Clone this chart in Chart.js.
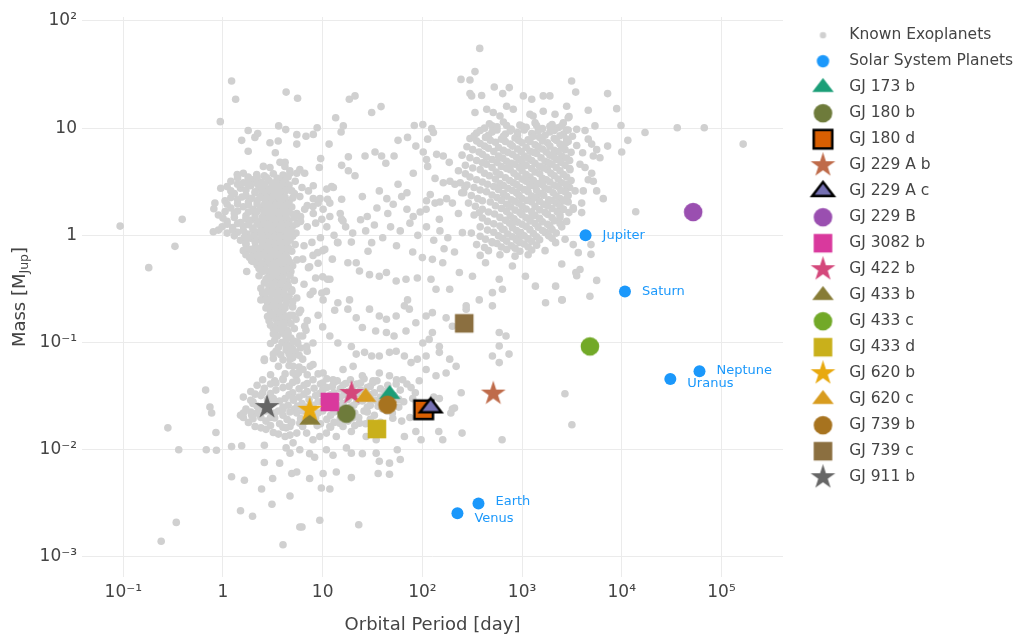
<!DOCTYPE html>
<html><head><meta charset="utf-8">
<script src="https://cdn.jsdelivr.net/npm/chart.js@4.4.1/dist/chart.umd.min.js"></script>
<style>html,body{margin:0;padding:0;background:#fff;}#wrap{width:1016px;height:639px;}</style>
</head><body><div id="wrap"><canvas id="c" width="1016" height="639"></canvas></div>
<script>
// ---------- axis ticks ----------
const xTickValues = [0.1, 1, 10, 100, 1000, 10000, 100000];
const xTickLabels = ['10⁻¹', '1', '10', '10²', '10³', '10⁴', '10⁵'];
const yTickValues = [0.001, 0.01, 0.1, 1, 10, 100];
const yTickLabels = ['10⁻³', '10⁻²', '10⁻¹', '1', '10', '10²'];

// ---------- solar system ----------
const solarNames  = ['Venus', 'Earth', 'Jupiter', 'Saturn', 'Uranus', 'Neptune'];
const solarPeriod = [224.7, 365.25, 4332.6, 10759, 30687, 60190];
const solarMass   = [0.00256, 0.00315, 1.0, 0.299, 0.0457, 0.054];

// ---------- highlighted planets ----------
const targetNames  = ['GJ 173 b','GJ 180 b','GJ 180 d','GJ 229 A b','GJ 229 A c','GJ 229 B','GJ 3082 b','GJ 422 b','GJ 433 b','GJ 433 c','GJ 433 d','GJ 620 b','GJ 620 c','GJ 739 b','GJ 739 c','GJ 911 b'];
const targetPeriod = [47, 17.3, 103, 514, 121, 52000, 11.8, 19.5, 7.45, 4790, 35, 7.4, 27, 44.7, 263, 2.77];
const targetMass   = [0.033, 0.0217, 0.0236, 0.0334, 0.0248, 1.65, 0.0279, 0.0338, 0.019, 0.092, 0.0156, 0.0236, 0.031, 0.0263, 0.151, 0.025];

// ---------- known exoplanets [period (day), mass (MJup)] ----------
const exoplanets = [
[0.093,1.22],[0.39,1.41],[0.33,0.79],[0.18,0.5],[0.8,1.08],[0.28,0.016],[0.85,0.0145],[0.36,0.01],[0.68,0.01],[0.86,0.0099],[1.22,0.0107],[1.54,0.0109],[2.6,0.011],[0.34,0.0021],[0.24,0.0014],[0.67,0.036],[0.74,0.025],[0.77,0.022],[0.95,2.75],[0.83,2.0],[0.81,1.77],[1.22,27.5],[1.34,18.6],[0.94,11.5],
[1.79,9.5],[2.23,8.9],[1.54,7.7],[2.09,8.2],[3.62,10.5],[4.26,9.7],[5.5,8.7],[5.5,7.1],[2.96,7.3],[3.58,7.6],[1.79,6.1],[3.35,5.9],[1.39,3.7],[1.79,3.5],[2.18,3.7],[2.54,4.4],[2.96,4.3],[3.73,4.8],[4.18,4.4],[4.69,4.0],[5.5,3.8],[4.3,21.7],[5.6,19],
[4.2,4.8],[4.7,3.8],[5.9,4.1],[6.6,3.8],[5.3,3.2],[6.2,2.8],[4.4,2.9],[4.9,2.6],[5.9,2.3],[7.2,2.6],[8.05,2.9],[8.05,2.2],[9.4,2.2],[11,2.7],[12.8,2.8],[11.8,2.0],[10.1,1.75],[8.05,1.6],[5.5,1.6],[4.4,1.75],
[1.6,3.8],[2.6,3.6],[3.2,3.75],[4.0,3.65],
[1.2,3.2],[1.6,3.1],[2.0,3.3],[2.4,3.15],[2.9,3.25],[3.3,3.1],[3.7,3.3],[4.2,3.2],
[1.1,2.85],[1.5,2.75],[1.9,2.9],[2.3,2.8],[2.7,2.7],[3.1,2.85],[3.5,2.75],[4.0,2.9],
[1.3,2.45],[1.7,2.35],[2.1,2.5],[2.5,2.4],[2.9,2.35],[3.3,2.45],[3.8,2.4],[5.2,2.45],
[1.05,2.1],[1.4,2.15],[1.8,2.05],[2.2,2.1],[2.6,2.2],[3.0,2.05],[3.4,2.15],[3.9,2.1],[4.6,2.05],
[1.2,1.8],[1.6,1.85],[2.0,1.75],[2.4,1.82],[2.8,1.78],[3.2,1.86],[3.6,1.8],[4.1,1.76],[4.9,1.84],
[0.9,1.55],[1.3,1.6],[1.7,1.52],[2.1,1.57],[2.5,1.5],[2.9,1.6],[3.3,1.54],[3.7,1.58],[4.3,1.52],[5.1,1.56],
[1.1,1.35],[1.5,1.32],[1.9,1.38],[2.3,1.34],[2.7,1.39],[3.1,1.31],[3.5,1.36],[4.0,1.33],[4.6,1.37],[6.0,1.35],
[0.98,1.2],[1.25,1.18],[1.6,1.22],[2.0,1.17],[2.4,1.21],[2.8,1.19],[3.2,1.23],[3.6,1.18],[4.2,1.2],[5.0,1.22],
[1.1,1.05],[1.4,1.07],[1.75,1.03],[2.2,1.06],[2.6,1.02],[3.0,1.07],[3.4,1.04],[3.9,1.06],[4.5,1.03],[5.4,1.05],
[1.5,0.9],[1.9,0.94],[2.3,0.91],[2.7,0.93],[3.1,0.9],[3.5,0.94],[4.0,0.92],[4.7,0.9],
[1.7,0.82],[2.1,0.78],[2.5,0.81],[2.9,0.8],[3.3,0.83],[3.8,0.79],[4.4,0.8],[5.3,0.82],
[1.6,0.72],[2.0,0.69],[2.4,0.71],[2.8,0.68],[3.2,0.72],[3.6,0.7],[4.2,0.69],[4.9,0.71],
[1.85,0.62],[2.3,0.59],[2.7,0.61],[3.1,0.6],[3.5,0.58],[3.9,0.62],[4.5,0.6],[5.5,0.59],
[2.2,0.53],[2.6,0.51],[3.0,0.54],[3.4,0.52],[3.8,0.5],[4.3,0.53],[5.0,0.52],
[2.5,0.46],[2.9,0.44],[3.3,0.46],[3.7,0.45],[4.1,0.44],[4.8,0.46],
[2.7,0.39],[3.1,0.37],[3.5,0.39],[3.9,0.38],[4.4,0.37],[5.2,0.38],
[2.4,0.32],[2.9,0.33],[3.3,0.31],[3.7,0.33],[4.2,0.32],[4.9,0.31],
[2.6,0.27],[3.1,0.28],[3.5,0.26],[3.9,0.28],[4.6,0.27],[5.5,0.26],
[2.8,0.23],[3.3,0.24],[3.7,0.22],[4.3,0.23],[5.0,0.24],
[3.0,0.19],[3.5,0.2],[4.0,0.19],[4.7,0.18],[5.8,0.19],
[2.9,0.16],[3.4,0.165],[3.9,0.155],[4.5,0.16],[5.4,0.165],
[3.2,0.135],[3.8,0.14],[4.4,0.13],[5.2,0.135],
[3.5,0.115],[4.1,0.12],[4.8,0.11],[6.3,0.115],
[3.0,0.098],[3.9,0.1],[4.6,0.095],[5.6,0.098],
[3.4,0.083],[4.3,0.085],[5.3,0.081],[7.0,0.083],
[2.6,0.068],[3.2,0.071],[4.0,0.069],[5.0,0.072],[6.3,0.07],
[3.6,0.06],[4.6,0.061],[5.8,0.059],[7.5,0.06],
[3.0,0.05],[4.2,0.051],[5.4,0.049],[7.0,0.05],[9.0,0.051],
[1.4,3.45],[1.8,3.4],[2.2,3.5],[2.75,3.45],[3.5,3.4],[4.5,3.5],
[1.4,3.0],[1.8,2.95],[2.2,3.05],[2.6,3.0],[3.1,2.95],[3.5,3.05],[3.95,3.0],[4.6,2.95],
[1.2,2.6],[1.7,2.65],[2.1,2.55],[2.5,2.6],[2.9,2.65],[3.3,2.55],[3.7,2.6],[4.3,2.62],
[1.2,2.25],[1.55,2.28],[1.95,2.22],[2.35,2.26],[2.75,2.23],[3.15,2.27],[3.6,2.24],[4.2,2.26],[5.0,2.23],
[1.1,1.95],[1.4,1.97],[1.8,1.93],[2.2,1.96],[2.6,1.94],[3.0,1.97],[3.4,1.93],[3.85,1.96],[4.4,1.94],
[1.05,1.67],[1.4,1.69],[1.8,1.65],[2.2,1.68],[2.6,1.66],[3.0,1.69],[3.5,1.65],[4.0,1.68],[4.6,1.66],
[1.0,1.45],[1.3,1.47],[1.7,1.43],[2.1,1.46],[2.5,1.44],[2.9,1.47],[3.3,1.43],[3.7,1.46],[4.3,1.44],[5.2,1.46],
[1.1,1.27],[1.4,1.29],[1.8,1.26],[2.2,1.28],[2.6,1.26],[3.0,1.29],[3.4,1.25],[3.9,1.28],[4.5,1.26],[5.5,1.28],
[0.9,1.12],[1.25,1.13],[1.6,1.11],[2.0,1.13],[2.4,1.1],[2.8,1.13],[3.2,1.11],[3.6,1.13],[4.1,1.11],[4.8,1.12],
[1.3,0.99],[1.65,0.97],[2.05,0.99],[2.5,0.97],[2.9,0.99],[3.3,0.96],[3.75,0.99],[4.3,0.97],[5.0,0.98],
[1.7,0.85],[2.1,0.87],[2.5,0.85],[2.9,0.87],[3.3,0.85],[3.7,0.87],[4.2,0.85],
[1.85,0.74],[2.25,0.76],[2.65,0.74],[3.0,0.76],[3.4,0.74],[3.9,0.76],[4.6,0.75],
[1.7,0.66],[2.15,0.64],[2.55,0.66],[2.95,0.64],[3.35,0.66],[3.75,0.64],[4.3,0.65],
[2.0,0.57],[2.45,0.55],[2.85,0.57],[3.25,0.55],[3.65,0.57],[4.1,0.55],[4.7,0.56],
[2.3,0.49],[2.7,0.47],[3.1,0.49],[3.5,0.48],[3.9,0.47],[4.5,0.49],
[2.3,0.42],[2.8,0.4],[3.2,0.42],[3.6,0.41],[4.0,0.4],[4.7,0.42],
[2.6,0.36],[3.0,0.34],[3.4,0.36],[3.8,0.35],[4.5,0.34],
[2.5,0.29],[2.8,0.3],[3.2,0.29],[3.6,0.3],[4.1,0.29],[4.9,0.3],
[2.4,0.25],[2.9,0.255],[3.3,0.245],[3.7,0.25],[4.3,0.255],
[2.7,0.21],[3.1,0.215],[3.6,0.205],[4.2,0.21],[5.0,0.215],
[2.8,0.175],[3.2,0.18],[3.7,0.17],[4.3,0.175],[5.0,0.18],
[3.0,0.145],[3.5,0.15],[4.1,0.145],[4.8,0.15],
[3.3,0.125],[3.9,0.127],[4.5,0.123],
[3.3,0.105],[4.3,0.107],[5.2,0.103],
[3.6,0.09],[4.8,0.091],[6.0,0.089],
[3.8,0.077],[4.6,0.078],[5.8,0.076],
[6.6,1.75],[8,1.86],[9.8,1.41],[11.2,2.17],[12.3,2.86],[15.5,2.17],[7.8,0.86],[8.9,0.69],[10.5,0.74],[7.4,0.51],[10,0.41],[11.2,0.39],[14.1,0.86],[15.5,1.41],[9.8,0.29],[13.2,0.2],[6.6,0.142],[5.6,0.1],
[6.5,0.35],[7.5,0.28],[8.5,0.4],[6.0,0.2],[7.0,0.16],[9.0,0.18],[6.8,0.13],[8.0,0.3],[10,0.14],[7.2,0.5],[9.0,0.55],[6.3,0.6],
[2.7,0.25],[3.2,0.22],[3.7,0.19],[3.4,0.133],[3.2,0.12],[4.0,0.138],[4.3,0.092],[5.05,0.086],[4.7,0.07],[5.05,0.06],[5.7,0.052],[2.6,0.07],[3.2,0.078],[3.3,0.044],[2.5,0.034],[3.2,0.03],[2.0,0.028],[1.6,0.022],[2.2,0.022],[1.73,0.46],[1.94,0.58],[2.18,0.66],[2.74,0.79],
[1.6,0.02],[1.94,0.021],[2.4,0.02],[2.4,0.016],[2.7,0.0155],[3.2,0.0145],[3.6,0.014],[4.3,0.016],[4.7,0.0137],[5.05,0.0116],[4.7,0.0093],[2.6,0.0076],[3.7,0.0075],[1.22,0.0056],[1.64,0.0052],[2.44,0.0043],[3.15,0.0054],[1.5,0.0027],[1.98,0.0024],[3.1,0.0031],[4.7,0.0037],[4.0,0.0013],[5.9,0.0019],
[4.7,0.0165],[5.9,0.0177],[4.2,0.0133],[5.5,0.0143],[6.9,0.0143],[8.0,0.0124],[9.35,0.0133],[10.9,0.0143],[13.7,0.0133],[11.8,0.0165],[14.8,0.0177],[19.4,0.0148],[23.4,0.0177],[27.3,0.0133],[34.4,0.0124],[50.5,0.0197],[66,0.0133],[86,0.0148],[97,0.0124],[146,0.0148],[160,0.0124],[250,0.0143],[630,0.0124],[3160,0.0171],[193,0.022],[210,0.0245],
[4.3,0.0104],[5.9,0.01],[7.4,0.0092],[8.3,0.0085],[10.9,0.01],[12.7,0.0089],[17.3,0.0104],[19.4,0.0093],[25,0.0092],[34.4,0.0093],[37,0.0078],[46.8,0.0075],[56,0.01],[60,0.0081],
[4.9,0.006],[5.5,0.0062],[7.4,0.0054],[10.1,0.006],[13.7,0.0062],[19.4,0.0055],[36,0.006],[46.8,0.0059],[9.7,0.0044],[11.8,0.0043],[9.35,0.0022],[6.2,0.0019],[23,0.002],
[2.5,0.045],[4.0,0.046],[5.5,0.044],[8.0,0.045],[11,0.046],[14,0.044],[19,0.045],[26,0.046],[35,0.044],[55,0.045],
[2.2,0.04],[3.0,0.041],[4.6,0.039],[6.5,0.04],[9.5,0.041],[12.5,0.039],[16,0.04],[22,0.041],[30,0.039],[45,0.04],[70,0.041],
[1.9,0.035],[3.4,0.036],[5.0,0.034],[7.0,0.035],[10,0.036],[13,0.034],[18,0.035],[24,0.036],[33,0.034],[42,0.035],[60,0.036],[85,0.034],
[1.6,0.031],[2.4,0.032],[4.2,0.03],[5.8,0.031],[8.5,0.032],[11,0.03],[15,0.031],[20,0.032],[28,0.03],[38,0.031],[52,0.032],[80,0.03],[130,0.031],
[2.0,0.027],[3.2,0.028],[4.5,0.026],[6.2,0.027],[9.0,0.028],[13,0.026],[16,0.027],[22,0.028],[30,0.026],[48,0.027],[65,0.028],
[1.7,0.024],[2.4,0.025],[3.6,0.023],[5.2,0.024],[7.0,0.025],[10,0.023],[14,0.024],[19,0.025],[26,0.023],[40,0.024],[58,0.025],[90,0.023],
[1.5,0.021],[2.2,0.022],[3.0,0.02],[4.0,0.021],[5.5,0.022],[8.0,0.02],[12,0.021],[16,0.022],[23,0.02],[33,0.021],[50,0.022],[75,0.02],
[1.8,0.018],[2.7,0.0185],[3.7,0.0175],[4.9,0.018],[6.8,0.0185],[9.5,0.0175],[13,0.018],[18,0.0185],[27,0.0175],[38,0.018],[62,0.0185],
[3.4,0.042],[5.0,0.0425],[7.0,0.0415],[10,0.042],[13,0.0425],[17,0.0415],[24,0.042],[32,0.0425],
[2.6,0.0375],[4.0,0.038],[5.8,0.037],[8.2,0.0375],[11,0.038],[15,0.037],[20,0.0375],[28,0.038],[38,0.037],
[2.1,0.033],[3.0,0.0335],[4.6,0.0325],[6.5,0.033],[9.3,0.0335],[12,0.0325],[16.5,0.033],[22,0.0335],[30,0.0325],[46,0.033],
[1.9,0.029],[2.8,0.0295],[3.7,0.0285],[5.1,0.029],[7.3,0.0295],[10,0.0285],[13.5,0.029],[18,0.0295],[25,0.0285],[34,0.029],[58,0.0295],
[2.2,0.0255],[2.9,0.026],[4.0,0.025],[5.6,0.0255],[8,0.026],[11,0.025],[15,0.0255],[20.5,0.026],[28,0.025],[36,0.0255],
[1.9,0.0225],[2.7,0.023],[3.3,0.022],[4.7,0.0225],[6.3,0.023],[9,0.022],[13,0.0225],[17.5,0.023],[21,0.022],[28,0.0225],[44,0.023],
[2.0,0.0195],[3.3,0.0198],[4.4,0.0192],[6.0,0.0195],[8.5,0.0198],[11,0.0192],[15,0.0195],[20,0.0198],[30,0.0192],
[2.1,0.0165],[3.0,0.0168],[4.0,0.0162],[6.3,0.0165],[8.8,0.0168],[12,0.0162],[16,0.0165],[21,0.0168],
[11.8,1.5],[16,1.36],[14.2,0.855],[19.4,0.865],[28.5,0.71],[31,0.855],[17.9,0.555],[21.7,0.555],[23.4,0.465],[29.5,0.43],[37,0.415],[43.6,0.45],[54.6,0.375],[68.5,0.39],[89,0.4],[11.8,0.39],[10.9,0.3],[10.1,0.25],[14.2,0.235],[18.6,0.25],[17.9,0.205],[29.5,0.205],[37,0.177],[43.6,0.165],[54.6,0.177],[66,0.22],[71,0.25],[74,0.205],[86,0.153],[21.7,0.17],[25,0.138],[34,0.128],[43.6,0.124],[52,0.115],[68.5,0.128],[11.8,0.115],[14.2,0.099],[19.4,0.092],[21.7,0.078],[26.3,0.081],[31,0.075],[37,0.075],[46.8,0.081],[54.6,0.083],[66,0.075],[77,0.065],[89,0.07],[101,0.099],[109,0.075],[8,0.099],[6.9,0.092],[5.9,0.115],
[4,0.045],[5.05,0.052],[6.35,0.056],[8,0.0625],[10.1,0.052],[12.7,0.045],[16,0.056],[20.2,0.06],[25,0.049],[32,0.044],[37,0.052],[46.8,0.049],[54.6,0.041],[63.5,0.045],[77,0.038],[93,0.044],[109,0.056],[137,0.049],[173,0.052],[218,0.06],[245,0.034],[200,0.024],[148,0.03],[5.05,0.03],[4,0.024],
[109,1.75],[148,1.41],[200,2.0],[252,1.06],[372,1.63],[504,0.855],[635,1.14],[800,1.31],[933,0.985],[1260,1.51],[1720,1.06],[2170,0.855],[2950,1.63],[126,0.597],[160,0.555],[235,0.45],[318,0.415],[430,0.555],[590,0.39],[800,0.517],[1080,0.415],[1360,0.336],[1720,0.235],[2170,0.336],[2530,0.25],[3460,0.45],[122,0.39],[137,0.314],[188,0.314],[275,0.22],[372,0.25],[504,0.292],[635,0.314],[504,0.22],[590,0.124],[690,0.115],[109,0.177],[126,0.19],[173,0.17],[200,0.142],[126,0.124],[117,0.107],[148,0.092],[148,0.081],[188,0.07],[590,0.093],[740,0.078],[504,0.075],[590,0.065],[275,0.205],
[18.5,18.6],[21.1,20],[31,14],[38.5,15.9],[13.5,12.5],[16.1,10.5],[15.3,9.2],[6.8,8.4],[8.05,8.75],[8.8,10.1],[11.6,7.1],[9.55,5.2],[9.25,4.3],[15.5,4.5],[18.1,5.4],[18.1,4.0],[21.1,3.6],[26.6,5.5],[33.5,6.0],[39,5.5],[43,4.7],[52,5.5],[57,7.7],[71,8.2],[83,10.6],[101,10.8],[86,6.8],[102,6.0],[113,7.9],[124,9.9],[129,9.1],[110,5.1],[139,5.7],[162,5.5],[186,4.8],[113,4.4],[81,3.8],[134,3.4],[162,3.1],[189,3.2],[212,3.0],[248,2.5],[267,2.8],[110,2.1],[134,2.0],[150,2.05],[175,2.2],[44,2.2],[51,1.95],[62,2.3],[70,2.5],[57,3.0],[37,2.6],[28,1.5],[81,1.5],
[7,1.9],[8.5,1.3],[9.5,0.95],[11,1.2],[13,1.0],[15,1.6],[17,1.2],[20,1.05],[24,1.4],[27,1.1],[33,1.25],[40,0.95],[48,1.2],[60,1.1],[75,1.3],[90,1.0],[110,1.2],[6.5,0.8],[8,0.65],[10,0.72],[12.5,0.6],[7,1.2],[6,1.5],[9,2.0],[25,2.3],[35,1.8],[45,1.6],[70,1.75],[95,1.65],[120,2.4],[55,0.8],[80,0.7],[100,0.62],[130,0.9],[150,1.1],[180,0.95],[230,1.6],[165,0.75],[210,0.7],
[376,55.5],[337,33.7],[244,28.5],[300,28.1],[312,20],[393,20.2],[300,21],[526,24.2],[639,21],[744,23.9],
[337,14],[442,15],[514,14],[600,13],[700,16],[816,15],[1030,20],[1250,18.6],[1630,20],[1900,20],[2140,13.5],[2800,16],[2900,12.5],[3140,27.5],[3450,21.7],[3530,9.75],[1200,13.5],[1290,13],[1630,14.4],
[7210,21],[4610,14.7],[8890,15.2],[2960,12.8],[2590,11.2],[2800,9.6],[4280,9.5],[5380,10.5],[9820,10.6],[17100,9.1],[36000,10.1],[67200,10.1],[165000,7.1],
[2760,7.3],[3530,6.9],[4610,7.9],[4990,7.1],[5600,6.3],[7210,6.8],[5180,5.5],[6040,5.3],[4050,5.9],[11500,7.7],[9980,6.0],
[3810,4.6],[4280,4.3],[4990,3.8],[4610,3.3],[5180,3.2],[3020,4.1],[2690,2.6],[3400,2.6],[4110,2.6],[5600,2.6],[6520,2.2],[3960,2.0],[2800,2.2],[3260,1.75],[13800,1.66],
[2590,1.75],[3260,1.81],[3960,1.63],[2400,1.46],[3260,0.82],[4910,0.82],[3660,0.69],[4910,0.665],[2500,0.54],[3810,0.48],[3530,0.42],[5600,0.38],[4790,0.27],[2500,0.25],[2690,0.0333],
[470,11],[650,11.4],[950,10.7],[1350,11.2],[2000,10.8],
[420,10],[560,10.3],[780,9.8],[1100,10.2],[1600,9.9],[2300,10.1],
[350,9],[500,9.2],[680,8.8],[900,9.1],[1250,8.9],[1900,9.2],[2600,8.8],
[300,8],[430,8.2],[620,7.9],[850,8.1],[1150,7.8],[1500,8.2],[2100,8],[2800,7.9],
[380,7.2],[540,7.4],[760,7.1],[1000,7.3],[1350,7],[1800,7.3],[2400,7.1],
[320,6.3],[460,6.5],[650,6.2],[900,6.4],[1200,6.1],[1600,6.4],[2100,6.2],[2700,6.3],
[250,5.6],[400,5.7],[580,5.5],[800,5.7],[1050,5.5],[1400,5.8],[1900,5.6],[2500,5.5],
[350,5],[500,5.1],[700,4.9],[950,5.1],[1250,5],[1700,4.9],[2250,5.1],[3000,5],
[270,4.5],[440,4.6],[620,4.4],[850,4.6],[1100,4.5],[1500,4.4],[2000,4.6],[2700,4.5],
[230,4],[380,4.1],[550,3.9],[760,4.1],[1000,4],[1350,3.9],[1800,4.1],[2400,4],
[300,3.5],[470,3.6],[680,3.45],[900,3.55],[1200,3.5],[1600,3.4],[2100,3.6],[2800,3.5],
[240,3.1],[400,3.15],[600,3.05],[820,3.1],[1100,3.2],[1450,3.05],[1900,3.15],[2500,3.1],
[330,2.8],[520,2.85],[720,2.75],[950,2.8],[1300,2.9],[1700,2.75],[2300,2.85],[3000,2.8],
[260,2.5],[440,2.55],[650,2.45],[880,2.5],[1150,2.55],[1550,2.45],[2050,2.5],[2700,2.55],
[360,2.2],[560,2.25],[780,2.15],[1000,2.2],[1400,2.25],[1850,2.15],[2400,2.2],
[290,2],[480,2.05],[700,1.95],[920,2],[1250,2.05],[1650,1.95],[2200,2],[2900,2.05],
[400,1.75],[620,1.78],[850,1.72],[1100,1.76],[1500,1.73],[2000,1.78],[2600,1.75],
[330,1.55],[530,1.58],[760,1.52],[1000,1.56],[1350,1.53],[1800,1.57],[2400,1.55],
[450,1.35],[680,1.38],[900,1.33],[1200,1.36],[1600,1.34],[2100,1.37],[2800,1.35],
[380,1.2],[600,1.22],[800,1.18],[1100,1.21],[1450,1.19],[1900,1.22],[2500,1.2],
[310,1.05],[520,1.07],[720,1.03],[970,1.06],[1300,1.04],[1700,1.07],[2200,1.05],
[430,0.92],[640,0.94],[880,0.9],[1150,0.93],[1500,0.91],[2000,0.94],[2700,0.92],
[350,0.82],[560,0.84],[780,0.8],[1050,0.83],[1400,0.81],
[460,0.72],[700,0.74],[950,0.71],[1250,0.73],[1700,0.72],
[380,0.65],[600,0.66],[850,0.64],[1150,0.66],
[500,10.5],[700,10.6],[1000,10.4],[1400,10.6],[1900,10.4],[2500,10.5],
[380,9.5],[560,9.6],[760,9.4],[1050,9.6],[1450,9.4],[2100,9.5],[2900,9.6],
[330,8.5],[460,8.6],[650,8.4],[900,8.6],[1300,8.4],[1700,8.6],[2400,8.5],[3200,8.4],
[350,7.6],[480,7.7],[680,7.5],[920,7.7],[1200,7.5],[1600,7.6],[2200,7.7],[2900,7.5],
[280,6.7],[420,6.8],[580,6.6],[800,6.8],[1100,6.6],[1450,6.7],[1900,6.8],[2500,6.6],
[370,6.0],[520,6.05],[720,5.95],[980,6.05],[1300,5.95],[1750,6.0],[2300,6.05],[3100,5.95],
[300,5.3],[440,5.35],[640,5.25],[880,5.35],[1150,5.25],[1550,5.3],[2100,5.35],[2800,5.25],
[400,4.75],[560,4.8],[780,4.7],[1000,4.8],[1350,4.7],[1850,4.75],[2450,4.8],
[320,4.25],[500,4.3],[700,4.2],[940,4.3],[1250,4.2],[1650,4.25],[2200,4.3],[3000,4.2],
[270,3.75],[420,3.8],[600,3.7],[830,3.8],[1100,3.7],[1500,3.75],[1950,3.8],[2600,3.7],
[350,3.3],[540,3.35],[750,3.25],[1000,3.35],[1300,3.25],[1750,3.3],[2300,3.35],[3100,3.25],
[280,2.95],[450,3.0],[650,2.92],[880,2.98],[1200,2.92],[1600,2.97],[2100,2.93],[2750,2.98],
[380,2.65],[580,2.68],[800,2.62],[1050,2.67],[1400,2.63],[1850,2.68],[2450,2.62],
[310,2.35],[500,2.38],[700,2.32],[930,2.37],[1250,2.33],[1650,2.37],[2200,2.33],[2900,2.36],
[400,2.1],[620,2.12],[850,2.08],[1120,2.12],[1500,2.08],[2000,2.11],[2600,2.09],
[340,1.87],[540,1.89],[770,1.85],[1000,1.88],[1350,1.86],[1800,1.89],[2400,1.85],
[460,1.65],[700,1.67],[950,1.63],[1250,1.66],[1700,1.64],[2250,1.66],
[400,1.45],[600,1.47],[830,1.43],[1100,1.46],[1500,1.44],[2000,1.46],
[520,1.28],[750,1.3],[1000,1.27],[1350,1.29],[1800,1.27],[2400,1.29],
[450,1.12],[660,1.13],[880,1.11],[1200,1.13],[1600,1.11],[2000,1.13],
[380,0.98],[580,0.99],[800,0.97],[1050,0.99],[1400,0.97],[1850,0.99],
[500,0.87],[700,0.88],[950,0.86],[1250,0.88],
[420,0.77],[620,0.78],[850,0.76],[1150,0.78]
];

// ---------- styles ----------
const FONT = '"DejaVu Sans", "Open Sans", sans-serif';
const TEXT = '#444';
const exoColor = '#d0d0d0';
const solarColor = '#1b98fb';
const targetShapes = ['triangle','circle','square','star','triangle','circle','square','star','triangle','circle','square','star','triangle','circle','square','star'];
const targetColors = ['#1b9e77','#6e7b3b','#d95f02','#bf6b4a','#7570b3','#9a4fb0','#d9399d','#d4487b','#877c36','#72a928','#c9b01b','#e8a90f','#d89c1f','#a7731f','#8b6f40','#666666'];
const targetBorder = [0,0,2.5,0,2.5,0,0,0,0,0,0,0,0,0,0,0];
const MARK_R = 9.3;
const solarLabelDy = [5, -1.5, 0, 0, 5, -1];

function markerPath(g, shape, cx, cy, r) {
  g.beginPath();
  if (shape === 'circle') g.arc(cx, cy, r, 0, Math.PI * 2);
  else if (shape === 'square') g.rect(cx - r, cy - r, 2 * r, 2 * r);
  else if (shape === 'triangle') {
    const rt = r * 2 / Math.sqrt(3);
    g.moveTo(cx - rt, cy + r / 2); g.lineTo(cx + rt, cy + r / 2); g.lineTo(cx, cy - r); g.closePath();
  } else if (shape === 'star') {
    const rs = r * 1.4;
    const pts = [[0.225,-0.309],[0.951,-0.309],[0.363,0.118],[0.588,0.809],[0,0.382],[-0.588,0.809],[-0.363,0.118],[-0.951,-0.309],[-0.225,-0.309],[0,-1]];
    pts.forEach(([a, b], i) => { const x = cx + a * rs, y = cy + b * rs; if (i) g.lineTo(x, y); else g.moveTo(x, y); });
    g.closePath();
  }
}
function markerCanvas(shape, color, border, r, w, h, cx, cy) {
  const c = document.createElement('canvas'); c.width = w; c.height = h;
  const g = c.getContext('2d');
  markerPath(g, shape, cx, cy, r);
  g.fillStyle = color; g.fill();
  if (border) { g.lineWidth = border; g.strokeStyle = '#000'; g.lineJoin = 'miter'; g.stroke(); }
  return c;
}

const LW = 48, LH = 26, LCX = 29.5, LCY = 13;
const legendIcons = [
  markerCanvas('circle', exoColor, 0, 3.2, LW, LH, LCX, LCY),
  markerCanvas('circle', solarColor, 0, 6.2, LW, LH, LCX, LCY)
].concat(targetNames.map((n, i) => markerCanvas(targetShapes[i], targetColors[i], targetBorder[i], MARK_R, LW, LH, LCX, LCY)));

const datasets = [
  { label: 'Known Exoplanets', data: exoplanets.map(([p, m]) => ({x: p, y: m})),
    pointStyle: 'circle', pointRadius: 3.8, backgroundColor: exoColor, borderWidth: 0, order: 100 },
  { label: 'Solar System Planets', data: solarPeriod.map((p, i) => ({x: p, y: solarMass[i]})),
    pointStyle: 'circle', pointRadius: 6, backgroundColor: solarColor, borderWidth: 0, order: 99 }
];
targetNames.forEach((n, i) => {
  datasets.push({
    label: n, data: [{x: targetPeriod[i], y: targetMass[i]}],
    pointStyle: markerCanvas(targetShapes[i], targetColors[i], targetBorder[i], MARK_R, 34, 34, 17, 17),
    pointRadius: 10, backgroundColor: targetColors[i], borderWidth: 0, order: 98 - i
  });
});

const solarLabels = {
  id: 'solarLabels',
  afterDatasetsDraw(chart) {
    const meta = chart.getDatasetMeta(1);
    const ctx = chart.ctx;
    ctx.save();
    ctx.font = '13px ' + FONT; ctx.fillStyle = solarColor;
    ctx.textAlign = 'left'; ctx.textBaseline = 'middle';
    meta.data.forEach((pt, i) => ctx.fillText(solarNames[i], pt.x + 17, pt.y + solarLabelDy[i]));
    ctx.restore();
  }
};
const yTitle = {
  id: 'yTitle',
  afterDraw(chart) {
    const ctx = chart.ctx, a = chart.chartArea;
    ctx.save();
    ctx.translate(20, (a.top + a.bottom) / 2);
    ctx.rotate(-Math.PI / 2);
    ctx.fillStyle = TEXT; ctx.textBaseline = 'middle'; ctx.textAlign = 'left';
    const big = '18px ' + FONT, small = '12.5px ' + FONT;
    ctx.font = big; const w1 = ctx.measureText('Mass [M').width, w3 = ctx.measureText(']').width;
    ctx.font = small; const w2 = ctx.measureText('Jup').width;
    let x = -(w1 + w2 + w3) / 2;
    ctx.font = big; ctx.fillText('Mass [M', x, 0); x += w1;
    ctx.font = small; ctx.fillText('Jup', x, 4.5); x += w2;
    ctx.font = big; ctx.fillText(']', x, 0);
    ctx.restore();
  }
};

Chart.defaults.font.family = FONT;
new Chart(document.getElementById('c'), {
  type: 'scatter',
  data: { datasets },
  options: {
    responsive: false, animation: false, events: [],
    layout: { padding: { top: 17, left: 0, right: 0, bottom: 0 } },
    plugins: {
      tooltip: { enabled: false },
      legend: {
        position: 'right', align: 'start', maxWidth: 233,
        labels: {
          usePointStyle: true, pointStyleWidth: 48, padding: 10.5,
          color: TEXT, font: { size: 15.5, family: FONT },
          generateLabels: (chart) => chart.data.datasets.map((ds, i) => ({
            text: ds.label, pointStyle: legendIcons[i], fillStyle: 'rgba(0,0,0,0)',
            strokeStyle: 'rgba(0,0,0,0)', lineWidth: 0, hidden: false, datasetIndex: i, fontColor: TEXT
          }))
        }
      }
    },
    scales: {
      x: {
        type: 'logarithmic', min: 0.03855, max: 414000,
        afterBuildTicks: (s) => { s.ticks = xTickValues.map(v => ({value: v})); },
        afterFit: (s) => { s.height = 62; },
        border: { display: false },
        grid: { color: '#ebebeb', drawTicks: false, lineWidth: 1 },
        ticks: { autoSkip: false, maxRotation: 0, padding: 5, color: TEXT, font: { size: 17 },
                 callback: (v, i) => xTickLabels[i] },
        title: { display: true, text: 'Orbital Period [day]', color: TEXT, font: { size: 18 }, padding: { top: 0, bottom: 3 } }
      },
      y: {
        type: 'logarithmic', min: 0.00065, max: 108.9,
        afterBuildTicks: (s) => { s.ticks = yTickValues.map(v => ({value: v})); },
        afterFit: (s) => { s.width = 82; },
        border: { display: false },
        grid: { color: '#ebebeb', drawTicks: false, lineWidth: 1 },
        ticks: { autoSkip: false, padding: 5, color: TEXT, font: { size: 17 },
                 callback: (v, i) => yTickLabels[i] }
      }
    }
  },
  plugins: [solarLabels, yTitle]
});
</script>
</body></html>
